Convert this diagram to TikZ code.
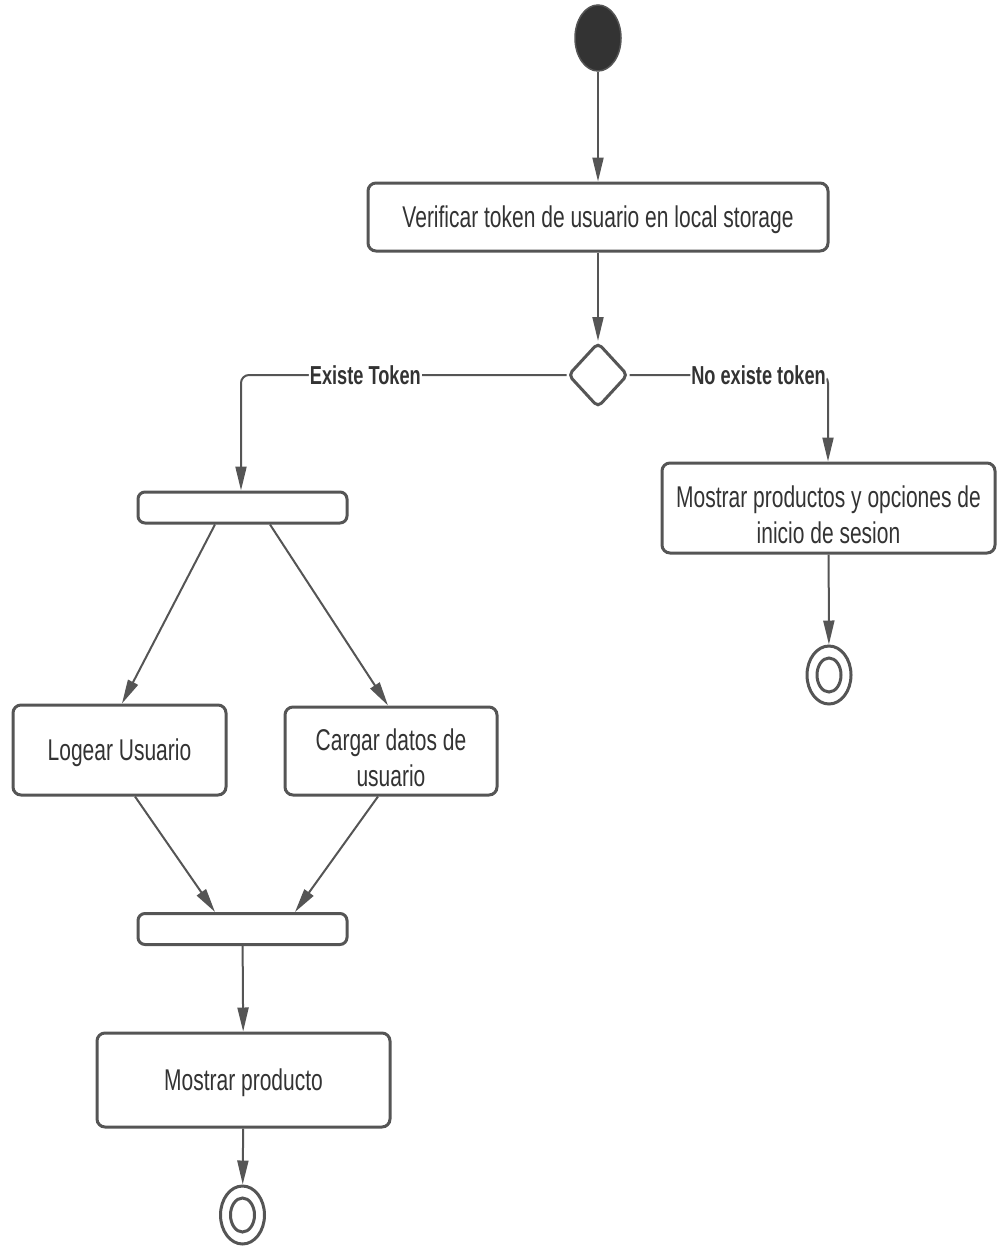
\documentclass[tikz,border=0pt]{standalone}
\usepackage{fontspec}
\setmainfont[FakeStretch=0.7]{Liberation Sans}
\usetikzlibrary{arrows.meta,shapes.geometric}
\definecolor{lc}{HTML}{555555}
\definecolor{tc}{HTML}{333333}
\definecolor{sc}{HTML}{333333}
\tikzset{
  act/.style={draw=lc, line width=3pt, rounded corners=8pt, fill=white, inner sep=0pt},
  acttext/.style={align=center, text=tc, font=\fontsize{30}{36}\selectfont, inner sep=0pt},
  barbox/.style={draw=lc, line width=3pt, rounded corners=7pt, fill=white,
    minimum width=209pt, minimum height=31pt, inner sep=0pt},
  flow/.style={draw=lc, line width=2pt, -{Triangle[length=24pt,width=11pt]}},
  guard/.style={fill=white, text=tc, inner sep=1pt, font=\fontsize{26}{30}\selectfont\bfseries},
  finalouter/.style={ellipse, draw=lc, line width=3pt, minimum width=44pt, minimum height=58pt, inner sep=0pt},
  finalinner/.style={ellipse, draw=lc, line width=3pt, minimum width=24pt, minimum height=34pt, inner sep=0pt}
}
\begin{document}
\begin{tikzpicture}[x=1pt,y=-1pt]
\useasboundingbox (0,0) rectangle (997,1247);
% nodes
\node[ellipse, fill=sc, draw=lc, line width=1.5pt, minimum width=46pt, minimum height=66pt, inner sep=0pt] (start) at (598,38) {};
\node[act, minimum width=460pt, minimum height=68pt,
  label={[acttext, yshift=-3pt]center:Verificar token de usuario en local storage}] (verif) at (598,217) {};
\node[diamond, draw=lc, line width=3pt, fill=white, minimum width=60pt, minimum height=65pt, inner sep=0pt, rounded corners=5pt] (dec) at (598,375) {};
\node[barbox] (bar1) at (242.5,507.5) {};
\node[act, minimum width=333pt, minimum height=90pt,
  label={[acttext, yshift=-7pt]center:Mostrar productos y opciones de\\inicio de sesion}] (mostrarop) at (828.5,508) {};
\node[finalouter] (fin1) at (829,675) {};
\node[finalinner] (fin1i) at (829,675) {};
\node[act, minimum width=213pt, minimum height=90pt,
  label={[acttext, yshift=-3pt]center:Logear Usuario}] (logear) at (119.5,750) {};
\node[act, minimum width=212pt, minimum height=88pt,
  label={[acttext, yshift=-7pt]center:Cargar datos de\\usuario}] (cargar) at (391,751) {};
\node[barbox] (bar2) at (242.5,929) {};
\node[act, minimum width=293pt, minimum height=94pt,
  label={[acttext, yshift=-3pt]center:Mostrar producto}] (mostrar) at (243.5,1080) {};
\node[finalouter] (fin2) at (242.5,1215) {};
\node[finalinner] (fin2i) at (242.5,1215) {};
% connectors
\draw[flow] (start) -- (verif);
\draw[flow] (verif) -- (dec);
\draw[flow, rounded corners=8pt] (dec.west) -| (bar1.north -| 241,0) node[guard, pos=0.309] {Existe Token};
\draw[flow, rounded corners=8pt] (dec.east) -| (mostrarop.north -| 828,0) node[guard, pos=0.325] {No existe token};
\draw[flow] (mostrarop) -- (fin1);
\draw[flow] ([xshift=-27.5pt]bar1.south) -- ([xshift=2.5pt]logear.north);
\draw[flow] ([xshift=27.5pt]bar1.south) -- ([xshift=-3pt]cargar.north);
\draw[flow] ([xshift=15.5pt]logear.south) -- ([xshift=-27.5pt]bar2.north);
\draw[flow] ([xshift=-13pt]cargar.south) -- ([xshift=52.5pt]bar2.north);
\draw[flow] (bar2) -- (mostrar);
\draw[flow] (mostrar) -- (fin2);
\end{tikzpicture}
\end{document}
